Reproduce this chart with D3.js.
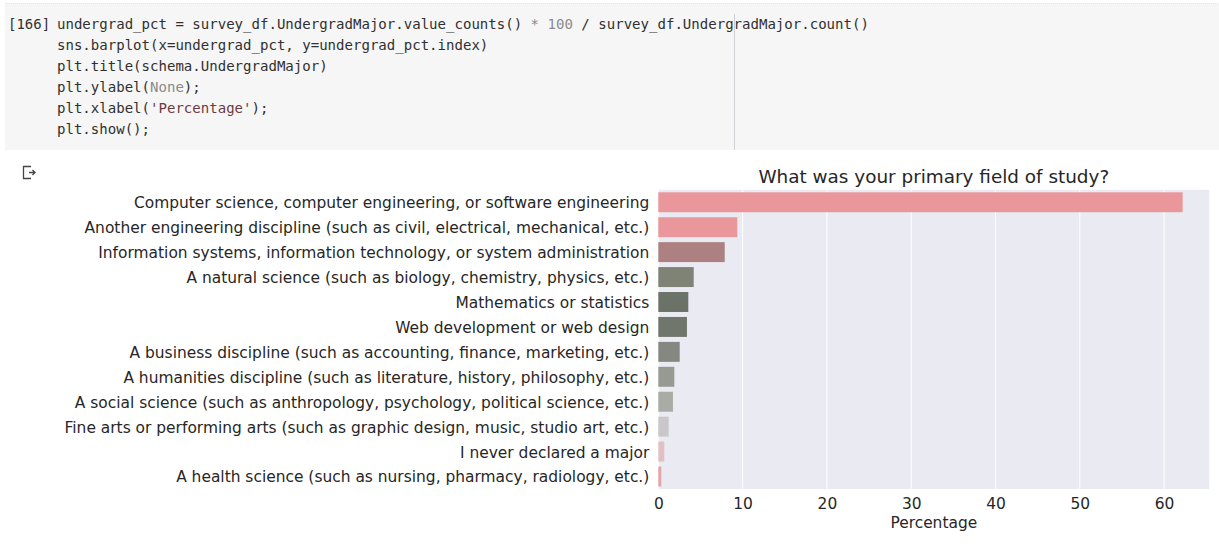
<!DOCTYPE html>
<html>
<head>
<meta charset="utf-8">
<script src="https://cdn.jsdelivr.net/npm/d3@7"></script>
<style>
  html, body { margin: 0; padding: 0; background: #ffffff; }
  svg { display: block; }
</style>
</head>
<body>
<svg id="chart" width="1219" height="553"></svg>
<script>
// ---- data ----
const categories = [
  "Computer science, computer engineering, or software engineering",
  "Another engineering discipline (such as civil, electrical, mechanical, etc.)",
  "Information systems, information technology, or system administration",
  "A natural science (such as biology, chemistry, physics, etc.)",
  "Mathematics or statistics",
  "Web development or web design",
  "A business discipline (such as accounting, finance, marketing, etc.)",
  "A humanities discipline (such as literature, history, philosophy, etc.)",
  "A social science (such as anthropology, psychology, political science, etc.)",
  "Fine arts or performing arts (such as graphic design, music, studio art, etc.)",
  "I never declared a major",
  "A health science (such as nursing, pharmacy, radiology, etc.)"
];
const percentages = [62.2, 9.37, 7.88, 4.2, 3.56, 3.4, 2.54, 1.9, 1.74, 1.23, 0.71, 0.36];
const barColors = ["#e9979b", "#e9979b", "#ad8081", "#7e8376", "#6b7267", "#71766c",
                   "#858880", "#979a92", "#a9aba5", "#c9c7c9", "#e0c0c5", "#e6a3a8"];
const xTicks = [0, 10, 20, 30, 40, 50, 60];
const chartTitle = "What was your primary field of study?";
const xLabel = "Percentage";
const codeLines = [
  [["undergrad_pct = survey_df.UndergradMajor.value_counts() ", "d"], ["*", "g"], [" ", "d"], ["100", "g"], [" / survey_df.UndergradMajor.count()", "d"]],
  [["sns.barplot(x=undergrad_pct, y=undergrad_pct.index)", "d"]],
  [["plt.title(schema.UndergradMajor)", "d"]],
  [["plt.ylabel(", "d"], ["None", "g"], [");", "d"]],
  [["plt.xlabel(", "d"], ["'Percentage'", "s"], [");", "d"]],
  [["plt.show();", "d"]]
];
const cellLabel = "[166]";

// ---- drawing ----
const svg = d3.select("#chart");
const tokenColor = {d: "#303030", g: "#8a8a8a", s: "#6e3b3d"};

// code cell
svg.append("rect").attr("x", 5).attr("y", 3).attr("width", 1214).attr("height", 147)
  .attr("fill", "#f6f6f6");
svg.append("line").attr("x1", 5).attr("x2", 1219).attr("y1", 3.5).attr("y2", 3.5)
  .attr("stroke", "#e6e6e6").attr("stroke-dasharray", "1,1");
svg.append("line").attr("x1", 734.5).attr("x2", 734.5).attr("y1", 14).attr("y2", 150)
  .attr("stroke", "#cfcfd4").attr("stroke-width", 1);

svg.append("text").attr("x", 8).attr("y", 29)
  .attr("font-family", "DejaVu Sans Mono").attr("font-size", 14)
  .attr("fill", "#303030").text(cellLabel);

const codeG = svg.append("g");
codeLines.forEach((line, i) => {
  const t = codeG.append("text")
    .attr("x", 57).attr("y", 29 + i * 21)
    .attr("font-family", "DejaVu Sans Mono").attr("font-size", 14.05)
    .attr("xml:space", "preserve").style("white-space", "pre");
  line.forEach(([txt, kind]) => {
    t.append("tspan").attr("fill", tokenColor[kind]).text(txt);
  });
});

// output icon
svg.append("path")
  .attr("d", "M31,166.5 H23.5 V178.5 H31 M29,172.5 H35 M32.5,170 L35,172.5 L32.5,175")
  .attr("fill", "none").attr("stroke", "#444").attr("stroke-width", 1.3);

// chart
const plot = {left: 658.3, right: 1209.3, top: 189.8, bottom: 489};
const x = d3.scaleLinear().domain([0, 65.36]).range([plot.left, plot.right]);
const y = d3.scaleBand().domain(categories).range([plot.top, plot.bottom])
  .paddingInner(0.2).paddingOuter(0.1);

svg.append("rect").attr("x", plot.left).attr("y", plot.top)
  .attr("width", plot.right - plot.left).attr("height", plot.bottom - plot.top)
  .attr("fill", "#eaeaf2");

// vertical gridlines
svg.append("g").selectAll("line").data(xTicks).join("line")
  .attr("x1", d => x(d)).attr("x2", d => x(d))
  .attr("y1", plot.top).attr("y2", plot.bottom)
  .attr("stroke", "#ffffff").attr("stroke-width", 1);

// bars
svg.append("g").selectAll("rect").data(percentages).join("rect")
  .attr("x", x(0))
  .attr("y", (d, i) => y(categories[i]))
  .attr("width", d => x(d) - x(0))
  .attr("height", y.bandwidth())
  .attr("fill", (d, i) => barColors[i]);

// y axis labels
const yAxis = d3.axisLeft(y).tickSize(0).tickPadding(9);
const yg = svg.append("g").attr("transform", `translate(${plot.left},1)`).call(yAxis);
yg.select(".domain").remove();
yg.selectAll("text").attr("font-family", "DejaVu Sans").attr("font-size", 15.45)
  .attr("fill", "#262626");

// x axis
const xAxis = d3.axisBottom(x).tickValues(xTicks).tickSize(0).tickPadding(9)
  .tickFormat(d3.format("d"));
const xg = svg.append("g").attr("transform", `translate(0,${plot.bottom})`).call(xAxis);
xg.select(".domain").remove();
xg.selectAll("text").attr("font-family", "DejaVu Sans").attr("font-size", 15.45)
  .attr("fill", "#262626");

// x label
svg.append("text").attr("x", (plot.left + plot.right) / 2).attr("y", 528)
  .attr("text-anchor", "middle").attr("font-family", "DejaVu Sans").attr("font-size", 15.45)
  .attr("fill", "#262626").text(xLabel);

// title
svg.append("text").attr("x", (plot.left + plot.right) / 2).attr("y", 182.5)
  .attr("text-anchor", "middle").attr("font-family", "DejaVu Sans").attr("font-size", 18.4)
  .attr("fill", "#262626").text(chartTitle);
</script>
</body>
</html>
